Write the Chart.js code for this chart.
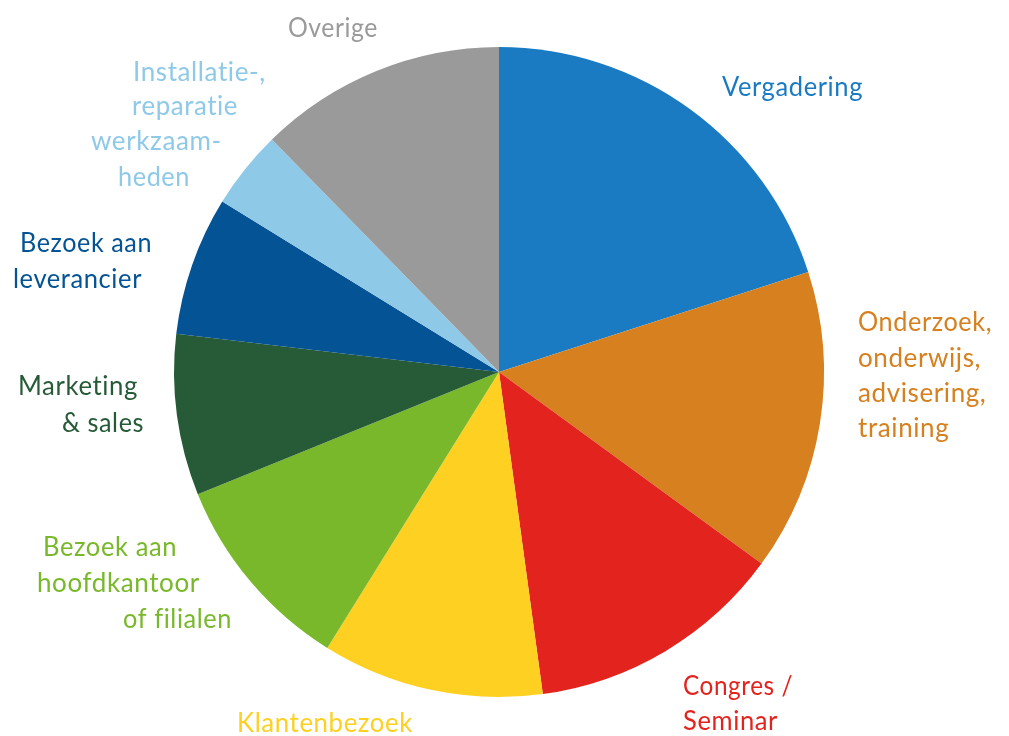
<!DOCTYPE html>
<html>
<head>
<meta charset="utf-8">
<script src="https://cdn.jsdelivr.net/npm/chart.js@4"></script>
<style>
  html, body { margin: 0; padding: 0; background: #ffffff; }
  #wrap { width: 1009px; height: 736px; }
</style>
</head>
<body>
<div id="wrap"><canvas id="pieChart" width="1009" height="736"></canvas></div>
<script>
// categories and their share (%)
const categories = [
    'Vergadering',
    'Onderzoek, onderwijs, advisering, training',
    'Congres / Seminar',
    'Klantenbezoek',
    'Bezoek aan hoofdkantoor of filialen',
    'Marketing & sales',
    'Bezoek aan leverancier',
    'Installatie-, reparatie werkzaamheden',
    'Overige'
];
const shares = [20, 15, 12.8, 11, 10, 8, 6.9, 3.9, 12.3];

const colors = ['#1b7bc2', '#d6801f', '#e3241e', '#fdd022', '#79b82b', '#275b37', '#045394', '#8fc9e8', '#9a9a9a'];

// label lines as drawn in the picture: text, offset from pie centre, width
const labelLines = [
    [['Vergadering', 223, -276, 141]],
    [['Onderzoek,', 359, -41, 134], ['onderwijs,', 359, -5, 133], ['advisering,', 359, 30, 136], ['training', 359, 65, 92]],
    [['Congres /', 184, 323, 110], ['Seminar', 184, 358, 95]],
    [['Klantenbezoek', -262, 360, 176]],
    [['Bezoek aan', -456, 184, 134], ['hoofdkantoor', -462, 220, 165], ['of filialen', -376, 256, 109]],
    [['Marketing', -481, 23, 120], ['& sales', -437, 60, 82]],
    [['Bezoek aan', -479, -120, 132], ['leverancier', -486, -84, 129]],
    [['Installatie-,', -366, -291, 135], ['reparatie', -367, -257, 106], ['werkzaam-', -408, -222, 131], ['heden', -381, -186, 72]],
    [['Overige', -211, -335, 90]]
];

const outsideLabels = {
    id: 'outsideLabels',
    afterDraw(chart) {
        const c = chart.ctx;
        const arcs = chart.getDatasetMeta(0).data;
        c.save();
        c.font = '26px Lato';
        c.letterSpacing = '0.6px'; // also stops the "ti" ligature
        c.textAlign = 'left';
        c.textBaseline = 'alphabetic';
        arcs.forEach((arc, i) => {
            c.fillStyle = colors[i];
            labelLines[i].forEach(([txt, dx, dy, w]) => {
                c.fillText(txt, arc.x + dx, arc.y + dy, w);
            });
        });
        c.restore();
    }
};

const ctx = document.getElementById('pieChart').getContext('2d');
new Chart(ctx, {
    type: 'pie',
    data: {
        labels: categories,
        datasets: [{
            data: shares,
            backgroundColor: colors,
            borderWidth: 0
        }]
    },
    options: {
        responsive: false,
        animation: false,
        layout: { padding: { top: 47, bottom: 39, left: 174, right: 185 } },
        plugins: {
            legend: { display: false },
            tooltip: { enabled: false }
        }
    },
    plugins: [outsideLabels]
});
</script>
</body>
</html>
